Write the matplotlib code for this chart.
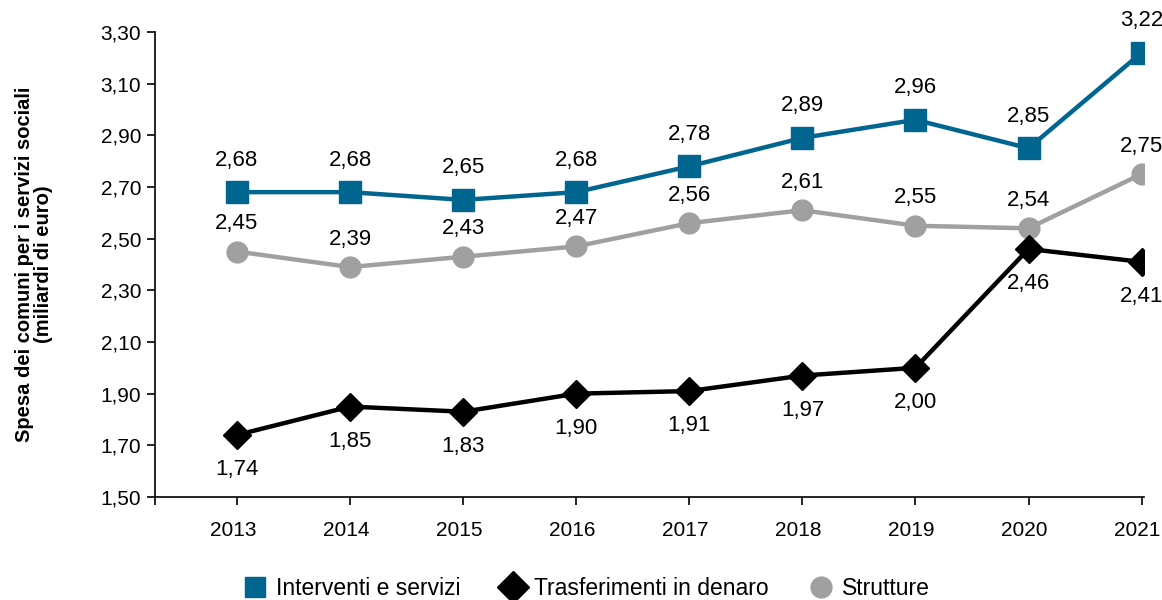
import matplotlib
matplotlib.use("Agg")
import matplotlib.pyplot as plt
from matplotlib.lines import Line2D
from matplotlib.transforms import ScaledTranslation

years = [2013, 2014, 2015, 2016, 2017, 2018, 2019, 2020, 2021]
interventi = [2.68, 2.68, 2.65, 2.68, 2.78, 2.89, 2.96, 2.85, 3.22]
trasferimenti = [1.74, 1.85, 1.83, 1.90, 1.91, 1.97, 2.00, 2.46, 2.41]
strutture = [2.45, 2.39, 2.43, 2.47, 2.56, 2.61, 2.55, 2.54, 2.75]
yticks = [1.50, 1.70, 1.90, 2.10, 2.30, 2.50, 2.70, 2.90, 3.10, 3.30]

blue = "#00658F"
gray = "#A0A0A0"

plt.rcParams["font.family"] = ["Liberation Sans", "DejaVu Sans"]

fig = plt.figure(figsize=(11.62, 6), dpi=100)
ax = fig.add_axes([0.1334, 0.1717, 0.851, 0.775])

ax.plot(years, strutture, color=gray, lw=3.2, marker="o", ms=15, zorder=3)
ax.plot(years, trasferimenti, color="black", lw=3.2, marker="D", ms=14, zorder=4)
ax.plot(years, interventi, color=blue, lw=3.2, marker="s", ms=16, zorder=5)


def fmt(v):
    return f"{v:.2f}".replace(".", ",")


for x, v in zip(years, interventi):
    ax.annotate(fmt(v), (x, v), xytext=(0, 23), textcoords="offset points",
                ha="center", va="center", fontsize=16)
for x, v in zip(years, strutture):
    ax.annotate(fmt(v), (x, v), xytext=(0, 20), textcoords="offset points",
                ha="center", va="center", fontsize=16)
for x, v in zip(years, trasferimenti):
    ax.annotate(fmt(v), (x, v), xytext=(0, -25), textcoords="offset points",
                ha="center", va="center", fontsize=16)

ax.set_xlim(2012.275, 2021.02)
ax.set_ylim(1.50, 3.30)
ax.set_yticks(yticks)
ax.set_yticklabels([fmt(t) for t in yticks], fontsize=15)
ax.set_xticks([2012.275] + years)
ax.set_xticklabels([""] + [str(y) for y in years], fontsize=15)
ax.tick_params(axis="x", direction="out", length=6, width=1.2, pad=11)
ax.tick_params(axis="y", direction="out", length=6, width=1.2, pad=4)

# the year labels sit a little left of their ticks
shift = ScaledTranslation(-4 / 100, 0, fig.dpi_scale_trans)
for lbl in ax.get_xticklabels():
    lbl.set_transform(lbl.get_transform() + shift)

for s in ["top", "right"]:
    ax.spines[s].set_visible(False)
for s in ["left", "bottom"]:
    ax.spines[s].set_linewidth(1.2)

ax.set_ylabel("Spesa dei comuni per i servizi sociali\n(miliardi di euro)",
              fontsize=14.5, fontweight="bold", labelpad=34, linespacing=1.0)

handles = [
    Line2D([], [], color=blue, marker="s", ls="none", ms=15),
    Line2D([], [], color="black", marker="D", ls="none", ms=16),
    Line2D([], [], color=gray, marker="o", ls="none", ms=15),
]
labels = ["Interventi e servizi", "Trasferimenti in denaro", "Strutture"]
fig.legend(handles, labels, loc="lower center", bbox_to_anchor=(0.505, -0.035),
           ncol=3, frameon=False, handlelength=1.0, handletextpad=0.4,
           columnspacing=1.8,
           prop={"family": ["Liberation Sans Narrow", "Liberation Sans"], "size": 16.5})

fig.savefig("out.png", dpi=100)
